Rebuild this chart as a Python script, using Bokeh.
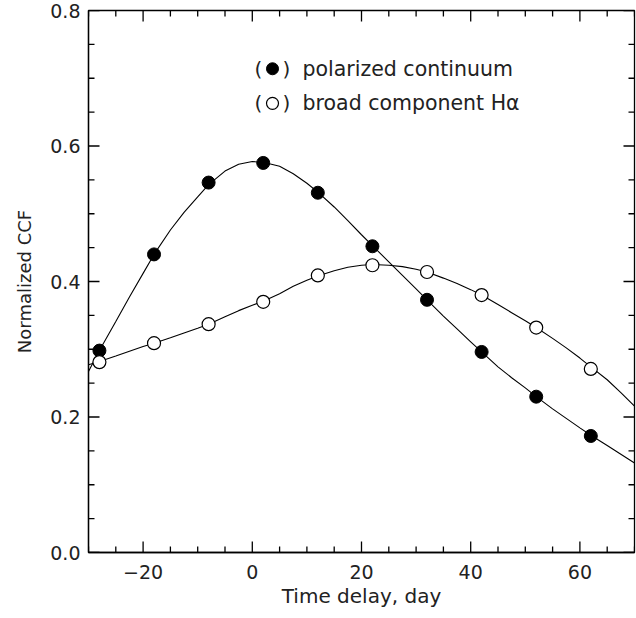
import numpy as np
from bokeh.plotting import figure
from bokeh.models import FixedTicker, Range1d
from bokeh.core.properties import value
from bokeh.embed import file_html
from bokeh.resources import INLINE

# ---- data ----
delay = [-28, -18, -8, 2, 12, 22, 32, 42, 52, 62]
polarized = [0.298, 0.440, 0.546, 0.575, 0.531, 0.452, 0.373, 0.296, 0.230, 0.172]
broad_ha = [0.281, 0.309, 0.337, 0.370, 0.409, 0.424, 0.414, 0.380, 0.332, 0.271]

# smooth fit curves
curve_x = [-30, -28, -25, -22.5, -20, -18, -15, -12.5, -10, -8, -5, -2.5, 0, 2, 5, 7.5,
           10, 12, 15, 17.5, 20, 22, 25, 27.5, 30, 32, 35, 37.5, 40, 42, 45, 47.5,
           50, 52, 55, 57.5, 60, 62, 65, 67.5, 70]
curve_pol = [0.267, 0.298, 0.341, 0.377, 0.412, 0.440, 0.476, 0.502, 0.525, 0.543, 0.563,
             0.573, 0.577, 0.576, 0.570, 0.559, 0.545, 0.532, 0.510, 0.490, 0.469, 0.453,
             0.429, 0.409, 0.389, 0.373, 0.349, 0.330, 0.311, 0.296, 0.274, 0.258,
             0.243, 0.230, 0.212, 0.198, 0.184, 0.173, 0.158, 0.145, 0.132]
curve_ha = [0.277, 0.282, 0.290, 0.297, 0.304, 0.309, 0.317, 0.324, 0.331, 0.337, 0.348,
            0.357, 0.365, 0.371, 0.382, 0.393, 0.402, 0.408, 0.416, 0.421, 0.424, 0.425,
            0.424, 0.422, 0.418, 0.414, 0.405, 0.397, 0.388, 0.380, 0.366, 0.354,
            0.342, 0.332, 0.316, 0.302, 0.287, 0.274, 0.255, 0.236, 0.216]

x_ticks = [-20, 0, 20, 40, 60]
x_tick_labels = ["\u221220", "0", "20", "40", "60"]
y_ticks = [0.0, 0.2, 0.4, 0.6, 0.8]
y_tick_labels = ["0.0", "0.2", "0.4", "0.6", "0.8"]

legend_labels = ["polarized continuum", "broad component H\u03b1"]

# ---- layout / style ----
FONT = "DejaVu Sans"
TXT = "#222222"
W, H = 636, 618
BL, BR, BT, BB = 88, 2, 10, 66
X0, X1 = -30.0, 70.0
Y0, Y1 = 0.0, 0.8
FW, FH = W - BL - BR, H - BT - BB
px_x = (X1 - X0) / FW      # data units per pixel
px_y = (Y1 - Y0) / FH
MAJ, MIN = 11.0, 6.0       # tick lengths in px
TW = 1.3                   # tick thickness in px

p = figure(width=W, height=H, output_backend="svg", toolbar_location=None,
           x_range=Range1d(X0, X1), y_range=Range1d(Y0, Y1),
           min_border_left=BL, min_border_right=BR, min_border_top=BT, min_border_bottom=BB)
p.xgrid.visible = False
p.ygrid.visible = False
p.outline_line_color = "black"
p.outline_line_width = 1.3

for ax, ticks, labels in ((p.xaxis[0], x_ticks, x_tick_labels), (p.yaxis[0], y_ticks, y_tick_labels)):
    ax.ticker = FixedTicker(ticks=ticks)
    ax.major_label_overrides = {t: l for t, l in zip(ticks, labels)}
    ax.major_tick_in = 0
    ax.major_tick_out = 0
    ax.minor_tick_in = 0
    ax.minor_tick_out = 0
    ax.axis_line_color = "black"
    ax.axis_line_width = 1.3
    ax.major_label_text_font = FONT
    ax.major_label_text_font_size = "19px"
    ax.major_label_text_color = TXT
    ax.axis_label_text_font = FONT
    ax.axis_label_text_font_style = "normal"
    ax.axis_label_text_color = TXT

p.xaxis[0].axis_label = "Time delay, day"
p.xaxis[0].axis_label_text_font_size = "20px"
p.xaxis[0].major_label_standoff = 12
p.xaxis[0].axis_label_standoff = 2
p.yaxis[0].axis_label = "Normalized CCF"
p.yaxis[0].axis_label_text_font_size = "18px"
p.yaxis[0].major_label_standoff = 8
p.yaxis[0].axis_label_standoff = 12

# ---- inward ticks on all four sides, drawn as thin filled bars ----
x_minor = [float(v) for v in np.arange(X0, X1 + 0.01, 5) if v not in x_ticks]
y_minor = [float(v) for v in np.round(np.arange(Y0, Y1 + 0.001, 0.05), 3) if v not in y_ticks]
ql, qr, qb, qt = [], [], [], []
hw_x = 0.5 * TW * px_x
hw_y = 0.5 * TW * px_y
for vals, L in ((x_ticks, MAJ), (x_minor, MIN)):
    for v in vals:
        v = float(v)
        ql += [v - hw_x, v - hw_x]
        qr += [v + hw_x, v + hw_x]
        qb += [Y0, Y1 - L * px_y]
        qt += [Y0 + L * px_y, Y1]
for vals, L in ((y_ticks, MAJ), (y_minor, MIN)):
    for v in vals:
        v = float(v)
        qb += [v - hw_y, v - hw_y]
        qt += [v + hw_y, v + hw_y]
        ql += [X0, X1 - L * px_x]
        qr += [X0 + L * px_x, X1]
p.quad(left=ql, right=qr, bottom=qb, top=qt, fill_color="black", line_color=None)

# ---- curves ----
p.line(curve_x, curve_pol, line_color="black", line_width=1.1)
p.line(curve_x, curve_ha, line_color="black", line_width=1.1)

# ---- points ----
p.scatter(delay, polarized, size=13, marker="circle", fill_color="black", line_color="black")
p.scatter(delay, broad_ha, size=13, marker="circle", fill_color="white", line_color="black",
          line_width=1.2)

# ---- legend ----
leg_y = [0.714, 0.663]
leg_paren_l, leg_mark, leg_paren_r, leg_text = 1.14, 3.70, 6.26, 9.2
p.text(x=[leg_paren_l] * 2, y=leg_y, text=["("] * 2, text_font=value(FONT),
       text_font_size="20px", text_color=TXT, text_baseline="middle", text_align="center")
p.text(x=[leg_paren_r] * 2, y=leg_y, text=[")"] * 2, text_font=value(FONT),
       text_font_size="20px", text_color=TXT, text_baseline="middle", text_align="center")
p.scatter([leg_mark], [leg_y[0]], size=12, marker="circle", fill_color="black", line_color="black")
p.scatter([leg_mark], [leg_y[1]], size=12, marker="circle", fill_color="white", line_color="black",
          line_width=1.2)
p.text(x=[leg_text] * 2, y=leg_y, text=legend_labels, text_font=value(FONT),
       text_font_size="20.5px", text_color=TXT, text_baseline="middle", text_align="left")

open("out.html", "w").write(file_html(p, INLINE))
